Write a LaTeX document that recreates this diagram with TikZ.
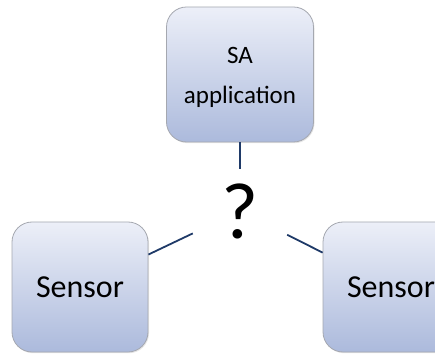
\documentclass[tikz,border=0pt]{standalone}
\usepackage{fontspec}
\setmainfont{Carlito}
\usetikzlibrary{shadows}
\definecolor{boxtop}{RGB}{236,239,248}
\definecolor{boxbottom}{RGB}{172,186,220}
\definecolor{boxline}{RGB}{165,168,176}
\definecolor{linkblue}{RGB}{31,58,104}
\tikzstyle{box} = [rectangle,draw=boxline,line width=0.8pt,rounded corners=20pt,top color=boxtop,bottom color=boxbottom,align=center,inner sep=0pt,drop shadow={opacity=0.2,shadow xshift=1pt,shadow yshift=-1.2pt}]
\tikzstyle{link} = [draw=linkblue,line width=1.8pt]
\begin{document}
\begin{tikzpicture}[x=1pt,y=1pt]
		\useasboundingbox (0,0) rectangle (435,353);
		\clip (0,0) rectangle (435,353);
		\node [box,minimum width=147pt,minimum height=135pt,font=\fontsize{25}{40}\selectfont](app) at (240,278.5){\rule{0pt}{23pt}SA\\application};
		\node [minimum width=94pt,minimum height=84pt,inner sep=0pt,font=\fontsize{80}{96}\selectfont](q) at (240,142){?};
		\node [box,minimum width=136pt,minimum height=130pt,font=\fontsize{32}{40}\selectfont](sl) at (80,66){Sensor};
		\node [box,minimum width=136pt,minimum height=130pt,font=\fontsize{32}{40}\selectfont](sr) at (391,66){Sensor};
		
		\draw[link](app)--(q);
		\draw[link](sl)--(q);
		\draw[link](sr)--(q);
		\end{tikzpicture}
\end{document}
